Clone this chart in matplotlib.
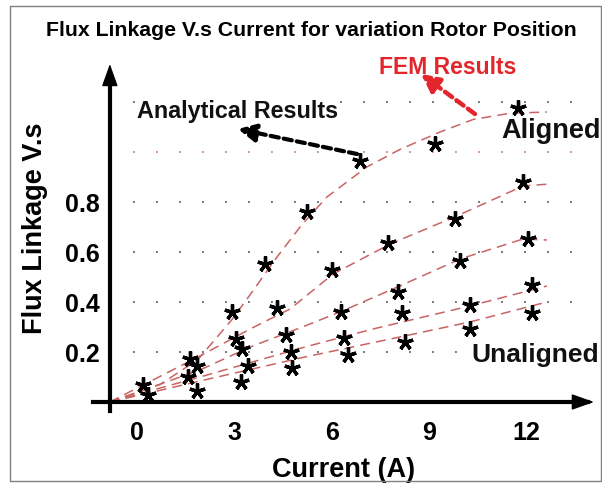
import matplotlib
matplotlib.use("Agg")
import matplotlib.pyplot as plt
from matplotlib.patches import Rectangle

plt.rcParams['font.family'] = ['Liberation Sans', 'DejaVu Sans']
plt.rcParams['font.weight'] = 'bold'

# dashed curves (aligned -> unaligned)
curve1_x = [-0.85, 0.70, 1.87, 2.92, 3.54, 4.25, 5.08, 5.85, 7.08, 8.10, 9.34, 10.36, 11.50, 12.64]
curve1_y = [0.0, 0.07, 0.17, 0.33, 0.44, 0.57, 0.71, 0.82, 0.94, 1.01, 1.08, 1.13, 1.155, 1.16]
curve2_x = [-0.85, 1.93, 3.48, 4.71, 6.04, 7.80, 9.86, 11.90, 12.73]
curve2_y = [0.0, 0.184, 0.292, 0.372, 0.512, 0.632, 0.744, 0.864, 0.872]
curve3_x = [-0.85, 1.93, 3.48, 5.17, 6.25, 8.10, 9.96, 11.90, 12.64]
curve3_y = [0.0, 0.128, 0.22, 0.304, 0.36, 0.464, 0.572, 0.652, 0.648]
curve4_x = [-0.85, 1.93, 5.17, 7.27, 10.26, 12.64]
curve4_y = [0.0, 0.10, 0.22, 0.292, 0.384, 0.464]
curve5_x = [-0.85, 1.93, 5.17, 8.10, 10.26, 12.64]
curve5_y = [0.0, 0.084, 0.18, 0.26, 0.32, 0.40]

# asterisk points
pts1_x = [2.92, 3.94, 5.24, 6.87, 9.19, 11.75]
pts1_y = [0.36, 0.552, 0.76, 0.964, 1.032, 1.176]
pts2_x = [1.62, 4.31, 6.01, 7.73, 9.80, 11.90]
pts2_y = [0.172, 0.376, 0.528, 0.636, 0.732, 0.88]
pts3_x = [0.17, 1.84, 3.04, 4.59, 6.28, 8.04, 9.96, 12.06]
pts3_y = [0.068, 0.144, 0.252, 0.268, 0.36, 0.44, 0.564, 0.652]
pts4_x = [1.56, 3.23, 4.74, 6.38, 8.17, 10.26, 12.17]
pts4_y = [0.10, 0.212, 0.20, 0.256, 0.356, 0.388, 0.468]
pts5_x = [0.33, 1.84, 3.20, 3.41, 4.77, 6.50, 8.26, 10.26, 12.17]
pts5_y = [0.028, 0.044, 0.08, 0.144, 0.136, 0.188, 0.24, 0.292, 0.356]

x_ticks = [0, 3, 6, 9, 12]
y_ticks = [0.2, 0.4, 0.6, 0.8]
grid_rows = [0.2, 0.4, 0.6, 0.8, 1.0, 1.2]

fig = plt.figure(figsize=(6.02, 4.85), dpi=100)
ax = fig.add_axes([0, 0, 1, 1])
ax.set_xlim(-4.241, 14.340)
ax.set_ylim(-0.328, 1.612)
ax.patch.set_visible(False)

# dotted guide rows
for r in grid_rows:
    col = '#d98080' if r == 1.0 else '#606060'
    ax.hlines(r, -0.136, 13.4, colors=col, lw=1.3, linestyles=(0, (1, 11.74)), zorder=1)

# dashed curves
for cx, cy in [(curve1_x, curve1_y), (curve2_x, curve2_y), (curve3_x, curve3_y),
               (curve4_x, curve4_y), (curve5_x, curve5_y)]:
    ax.plot(cx, cy, color='#c86464', lw=1.1, dashes=(6.5, 4), zorder=2)

# asterisks
for px, py in [(pts1_x, pts1_y), (pts2_x, pts2_y), (pts3_x, pts3_y),
               (pts4_x, pts4_y), (pts5_x, pts5_y)]:
    ax.plot(px, py, linestyle='none', marker=(5, 2, 0), ms=11.5, mew=2.4,
            color='black', zorder=4)

# axes as arrows
for s in ['top', 'right']:
    ax.spines[s].set_visible(False)
ax.spines['left'].set_position(('data', -0.85))
ax.spines['bottom'].set_position(('data', 0))
ax.spines['left'].set_bounds(-0.036, 1.30)
ax.spines['bottom'].set_bounds(-1.37, 13.9)
ax.spines['left'].set_linewidth(3)
ax.spines['bottom'].set_linewidth(3)
ax.spines['left'].set_zorder(5)
ax.spines['bottom'].set_zorder(5)
head = dict(arrowstyle='-|>,head_length=1.4,head_width=0.5', mutation_scale=10,
            color='black', lw=1, shrinkA=0, shrinkB=0)
ax.annotate('', xy=(-0.85, 1.352), xytext=(-0.85, 1.25), arrowprops=head)
ax.annotate('', xy=(14.09, 0), xytext=(13.8, 0), arrowprops=head)

ax.set_xticks(x_ticks)
ax.set_xticklabels([str(v) for v in x_ticks])
ax.set_yticks(y_ticks)
ax.set_yticklabels(['%.1f' % v for v in y_ticks])
ax.tick_params(axis='x', length=0, pad=13, labelsize=18)
ax.tick_params(axis='y', length=0, pad=7, labelsize=18)

ax.set_xlabel('Current (A)', fontsize=19.5, fontweight='bold')
ax.xaxis.set_label_coords(344 / 602, 1 - 457 / 485)
ax.set_ylabel('Flux Linkage V.s', fontsize=19.5, fontweight='bold')
ax.yaxis.set_label_coords(48 / 602, 1 - 228 / 485)

ax.set_title('Flux Linkage V.s Current for variation Rotor Position',
             fontsize=15.3, fontweight='bold', x=311 / 602, y=1 - 36 / 485, pad=0)

# annotations
ax.text(9.57, 1.316, 'FEM Results', color='#e2262c', fontsize=16.5, ha='center',
        va='baseline', zorder=6)
ax.text(3.09, 1.14, 'Analytical Results', color='#111111', fontsize=16.8, ha='center',
        va='baseline', zorder=6,
        bbox=dict(facecolor='white', edgecolor='none', pad=0))
ax.text(12.77, 1.06, 'Aligned', color='#111111', fontsize=19.5, ha='center',
        va='baseline', zorder=6, bbox=dict(facecolor='white', edgecolor='none', pad=0))
ax.text(12.27, 0.164, 'Unaligned', color='#111111', fontsize=19, ha='center',
        va='baseline', zorder=6, bbox=dict(facecolor='white', edgecolor='none', pad=0))

ax.annotate('', xy=(8.75, 1.312), xytext=(10.42, 1.152),
            arrowprops=dict(arrowstyle='-|>,head_length=0.9,head_width=0.45',
                            mutation_scale=12, color='#e2262c', lw=3.2,
                            linestyle=(0, (2, 1.2)), shrinkA=0, shrinkB=0), zorder=6)
ax.annotate('', xy=(3.10, 1.092), xytext=(6.78, 0.992),
            arrowprops=dict(arrowstyle='-|>,head_length=0.9,head_width=0.45',
                            mutation_scale=12, color='black', lw=3,
                            linestyle=(0, (2, 1.2)), shrinkA=0, shrinkB=0), zorder=6)

# outer frame
fig.patches.append(Rectangle((10 / 602, 3 / 485), 591 / 602, 475 / 485,
                             transform=fig.transFigure, fill=False,
                             edgecolor='#808080', lw=1))

fig.savefig('out.png', dpi=100, facecolor='white')
